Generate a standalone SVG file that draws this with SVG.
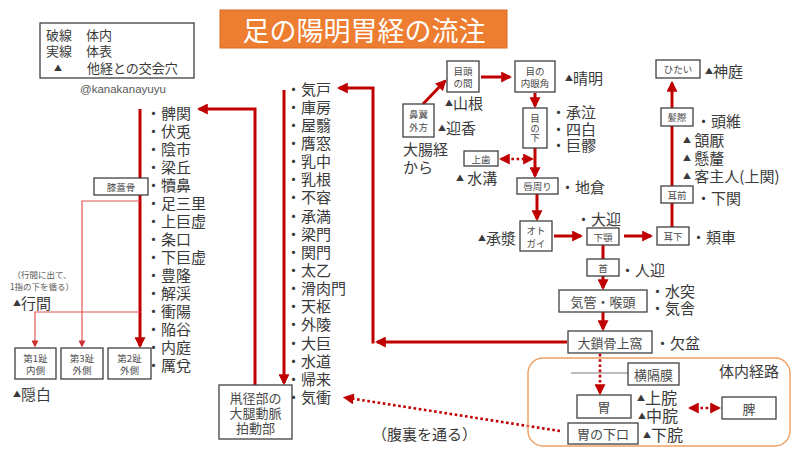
<svg xmlns="http://www.w3.org/2000/svg" width="800" height="455" viewBox="0 0 800 455">
<style>
text{font-family:"Noto Sans CJK JP","Noto Sans",sans-serif;fill:#3a3a3a;dominant-baseline:central}
tspan{dominant-baseline:central}
.box{fill:#fff;stroke:#404040;stroke-width:1.3}
.bt{fill:#4a4a4a;text-anchor:middle}
.s9{font-size:9.5px}
.s13{font-size:13px}
.lb{font-size:15px}
.tri{font-size:8px}
.thick{fill:none;stroke:#C00000;stroke-width:3}
.thin{fill:none;stroke:#E05555;stroke-width:1.2}
.dot{fill:none;stroke:#C00000;stroke-width:2.6;stroke-dasharray:2.6 2.6}
</style>
<defs>
<marker id="ah" viewBox="0 0 10 10" refX="8" refY="5" markerWidth="11" markerHeight="11" markerUnits="userSpaceOnUse" orient="auto-start-reverse"><path d="M0,0 L10,5 L0,10 z" fill="#C00000"/></marker>
<marker id="ahs" viewBox="0 0 10 10" refX="8" refY="5" markerWidth="7" markerHeight="7" markerUnits="userSpaceOnUse" orient="auto-start-reverse"><path d="M0,0 L10,5 L0,10 z" fill="#D03030"/></marker>
</defs>
<rect width="800" height="455" fill="#fff"/>

<g id="title">
<rect x="220" y="10" width="287" height="38" fill="#ED7D31" stroke="#D76A20" stroke-width="1"/>
<text x="364" y="29" style="fill:#fff;font-size:27px;text-anchor:middle">足の陽明胃経の流注</text>
</g>

<g id="legend">
<rect x="40" y="23" width="154" height="55" fill="#fff" stroke="#404040" stroke-width="1.3"/>
<text style="font-size:13px"><tspan x="46" y="33.5">破線</tspan><tspan x="86" y="33.5">体内</tspan><tspan x="46" y="50">実線</tspan><tspan x="86" y="50">体表</tspan><tspan x="54" y="67" class="tri">▲</tspan><tspan x="87" y="67">他経との交会穴</tspan></text>
<text x="80" y="89" style="font-size:11.5px;fill:#595959;font-family:'Liberation Sans','Noto Sans',sans-serif">@kanakanayuyu</text>
</g>

<g id="connectors">
<polyline class="thick" points="140,109 140,346" marker-end="url(#ah)"/>
<polyline class="thin" points="140,201 82,201 82,346" marker-end="url(#ahs)"/>
<polyline class="thin" points="140,312 35,312 35,346" marker-end="url(#ahs)"/>
<polyline class="thick" points="255,385 255,109 199,109" marker-end="url(#ah)"/>
<polyline class="thick" points="284,90 284,383" marker-end="url(#ah)"/>
<polyline class="thick" points="567,342 377,342" marker-end="url(#ah)"/>
<polyline class="thick" points="373,343.5 373,88 339,88" marker-end="url(#ah)"/>
<line class="dot" x1="560" y1="431" x2="345" y2="397.5" marker-end="url(#ah)"/>
<line class="thick" x1="423" y1="104" x2="445" y2="81" marker-end="url(#ah)"/>
<line class="thick" x1="481" y1="77" x2="510" y2="77" marker-end="url(#ah)"/>
<line class="thick" x1="535" y1="93" x2="535" y2="106" marker-end="url(#ah)"/>
<line class="thick" x1="535" y1="148" x2="535" y2="176" marker-end="url(#ah)"/>
<line class="dot" x1="501" y1="159" x2="532" y2="159" marker-start="url(#ah)" marker-end="url(#ah)"/>
<line class="thick" x1="537" y1="194" x2="537" y2="219" marker-end="url(#ah)"/>
<line class="thick" x1="554" y1="236" x2="581" y2="236" marker-end="url(#ah)"/>
<line class="thick" x1="624" y1="236" x2="651" y2="236" marker-end="url(#ah)"/>
<line class="thick" x1="672" y1="227" x2="672" y2="83" marker-end="url(#ah)"/>
<line class="thick" x1="603" y1="245" x2="603" y2="259"/>
<line class="thick" x1="603" y1="276" x2="603" y2="288" marker-end="url(#ah)"/>
<line class="thick" x1="603" y1="312" x2="603" y2="329" marker-end="url(#ah)"/>
<line class="dot" x1="600" y1="354" x2="600" y2="393" marker-end="url(#ah)"/>
<line class="dot" x1="690" y1="408" x2="719" y2="408" marker-start="url(#ah)" marker-end="url(#ah)"/>
<line x1="571" y1="373" x2="628" y2="373" stroke="#A6A6A6" stroke-width="1.3"/>
</g>

<g id="body-route">
<rect x="528" y="358" width="262" height="88" rx="15" fill="none" stroke="#F0A060" stroke-width="1.4"/>
<text x="719" y="370" class="lb">体内経路</text>
</g>

<g id="leg-points">
<text class="lb"><tspan x="146" y="111.5">・髀関</tspan><tspan x="146" y="129.5">・伏兎</tspan><tspan x="146" y="147.6">・陰市</tspan><tspan x="146" y="165.6">・梁丘</tspan><tspan x="146" y="183.7">・犢鼻</tspan><tspan x="146" y="201.7">・足三里</tspan><tspan x="146" y="219.7">・上巨虚</tspan><tspan x="146" y="237.8">・条口</tspan><tspan x="146" y="255.8">・下巨虚</tspan><tspan x="146" y="273.9">・豊隆</tspan><tspan x="146" y="291.9">・解渓</tspan><tspan x="146" y="309.9">・衝陽</tspan><tspan x="146" y="328">・陥谷</tspan><tspan x="146" y="346">・内庭</tspan><tspan x="146" y="364">・厲兌</tspan></text>
</g>

<g id="trunk-points">
<text class="lb"><tspan x="286" y="87.5">・気戸</tspan><tspan x="286" y="105.6">・庫房</tspan><tspan x="286" y="123.8">・屋翳</tspan><tspan x="286" y="141.9">・膺窓</tspan><tspan x="286" y="160.1">・乳中</tspan><tspan x="286" y="178.2">・乳根</tspan><tspan x="286" y="196.4">・不容</tspan><tspan x="286" y="214.5">・承満</tspan><tspan x="286" y="232.7">・梁門</tspan><tspan x="286" y="250.8">・関門</tspan><tspan x="286" y="269">・太乙</tspan><tspan x="286" y="287.1">・滑肉門</tspan><tspan x="286" y="305.3">・天枢</tspan><tspan x="286" y="323.4">・外陵</tspan><tspan x="286" y="341.6">・大巨</tspan><tspan x="286" y="359.7">・水道</tspan><tspan x="286" y="377.9">・帰来</tspan><tspan x="286" y="396">・気衝</tspan></text>
</g>

<g id="note-kokan">
<text style="font-size:8.5px;fill:#595959;text-anchor:middle"><tspan x="42" y="274">（行間に出て、</tspan><tspan x="42" y="286">1指の下を循る）</tspan></text>
<text x="13" y="302" class="lb"><tspan class="tri">▲</tspan>行間</text>
</g>
<g id="hizagaikotsu"><rect class="box" x="94" y="178" width="54" height="17"/><text x="121" y="186.5" class="bt s9">膝蓋骨</text></g>
<g id="toe1"><rect class="box" x="15" y="348" width="41" height="31"/><text class="bt s9"><tspan x="35.5" y="357.5">第1趾</tspan><tspan x="35.5" y="370">内側</tspan></text></g>
<g id="toe3"><rect class="box" x="61" y="348" width="42" height="31"/><text class="bt s9"><tspan x="82" y="357.5">第3趾</tspan><tspan x="82" y="370">外側</tspan></text></g>
<g id="toe2"><rect class="box" x="108" y="348" width="43" height="31"/><text class="bt s9"><tspan x="129.5" y="357.5">第2趾</tspan><tspan x="129.5" y="370">外側</tspan></text></g>
<g id="inpaku"><text x="13" y="393" class="lb"><tspan class="tri">▲</tspan>隠白</text></g>

<g id="sokei"><rect class="box" x="219" y="385" width="73" height="54"/><text class="bt s13"><tspan x="255.5" y="397">鼡径部の</tspan><tspan x="255.5" y="412">大腿動脈</tspan><tspan x="255.5" y="427">拍動部</tspan></text></g>
<g id="fukuri-note"><text x="372" y="433" class="lb">（腹裏を通る）</text></g>

<g id="biyoku"><rect class="box" x="403" y="104" width="31" height="33"/><text class="bt s9"><tspan x="418.5" y="114">鼻翼</tspan><tspan x="418.5" y="126.5">外方</tspan></text>
<text x="438" y="127" class="lb"><tspan class="tri">▲</tspan>迎香</text>
<text class="lb"><tspan x="403" y="148">大腸経</tspan><tspan x="403" y="166">から</tspan></text></g>
<g id="megashira"><rect class="box" x="447" y="61" width="32" height="31"/><text class="bt s9"><tspan x="463" y="71">目頭</tspan><tspan x="463" y="83">の間</tspan></text>
<text x="445" y="102" class="lb"><tspan class="tri">▲</tspan>山根</text></g>
<g id="naiganka"><rect class="box" x="515" y="61" width="40" height="31"/><text class="bt s9"><tspan x="535" y="71">目の</tspan><tspan x="535" y="83">内眼角</tspan></text>
<text x="565" y="77" class="lb"><tspan class="tri">▲</tspan>晴明</text></g>
<g id="menoshita"><rect class="box" x="523" y="108" width="24" height="40"/><text x="535" y="128" class="s9" style="fill:#4a4a4a;writing-mode:vertical-rl;text-anchor:middle;dominant-baseline:auto">目の下</text>
<text class="lb"><tspan x="551" y="111">・承泣</tspan><tspan x="551" y="127.5">・四白</tspan><tspan x="551" y="144">・巨髎</tspan></text></g>
<g id="joshi"><rect class="box" x="464" y="151" width="34" height="15"/><text x="481" y="158.5" class="bt s9">上歯</text>
<text x="456" y="177" class="lb"><tspan class="tri">▲</tspan> 水溝</text></g>
<g id="kuchimawari"><rect class="box" x="517" y="178" width="41" height="16"/><text x="537.5" y="186" class="bt s9">唇周り</text>
<text x="560" y="186.5" class="lb">・地倉</text></g>
<g id="otogai"><rect class="box" x="520" y="221" width="32" height="30"/><text class="bt s9"><tspan x="536" y="230">オト</tspan><tspan x="536" y="243">ガイ</tspan></text>
<text x="478" y="237" class="lb"><tspan class="tri">▲</tspan>承漿</text></g>
<g id="kagaku"><rect class="box" x="587" y="228" width="32" height="17"/><text x="603" y="236.5" class="bt s9">下顎</text>
<text x="576" y="218" class="lb">・大迎</text></g>
<g id="mimishita"><rect class="box" x="657" y="227" width="32" height="18"/><text x="673" y="236" class="bt s9">耳下</text>
<text x="691" y="236" class="lb">・頬車</text></g>
<g id="mimimae"><rect class="box" x="661" y="186" width="32" height="17"/><text x="677" y="194.5" class="bt s9">耳前</text>
<text x="696" y="197" class="lb">・下関</text></g>
<g id="hakkotsu"><rect class="box" x="661" y="108" width="32" height="18"/><text x="677" y="117" class="bt s9">髪際</text>
<text class="lb"><tspan x="696" y="120">・頭維</tspan><tspan x="683" y="139" class="tri">▲</tspan><tspan> 頷厭</tspan><tspan x="683" y="157" class="tri">▲</tspan><tspan> 懸釐</tspan><tspan x="683" y="175" class="tri">▲</tspan><tspan> 客主人(上関)</tspan></text></g>
<g id="hitai"><rect class="box" x="656" y="60" width="44" height="18"/><text x="678" y="69" class="bt s9">ひたい</text>
<text x="705" y="70" class="lb"><tspan class="tri">▲</tspan>神庭</text></g>
<g id="kubi"><rect class="box" x="587" y="259" width="32" height="17"/><text x="603" y="267.5" class="bt s9">首</text>
<text x="620" y="269" class="lb">・人迎</text></g>
<g id="kikan"><rect class="box" x="559" y="290" width="88" height="22"/><text x="603" y="301" class="bt s13">気管・喉頭</text>
<text class="lb"><tspan x="650" y="290">・水突</tspan><tspan x="650" y="307">・気舎</tspan></text></g>
<g id="sakotsu"><rect class="box" x="568" y="331" width="84" height="22"/><text x="610" y="342" class="bt s13">大鎖骨上窩</text>
<text x="655" y="342" class="lb">・欠盆</text></g>
<g id="oukakumaku"><rect class="box" x="628" y="363" width="51" height="22"/><text x="653.5" y="374" class="bt s13">横隔膜</text></g>
<g id="i"><rect class="box" x="577" y="395" width="54" height="23"/><text x="604" y="406.5" class="bt s13">胃</text>
<text style="font-size:16px"><tspan x="637" y="397" class="tri">▲</tspan><tspan>上脘</tspan><tspan x="638" y="415" class="tri">▲</tspan><tspan>中脘</tspan></text></g>
<g id="kako"><rect class="box" x="568" y="423" width="70" height="21"/><text x="603" y="433.5" class="bt s13">胃の下口</text>
<text x="643" y="434" style="font-size:16px"><tspan class="tri">▲</tspan>下脘</text></g>
<g id="hi"><rect class="box" x="722" y="397" width="54" height="22"/><text x="749" y="408" class="bt s13">脾</text></g>
</svg>
